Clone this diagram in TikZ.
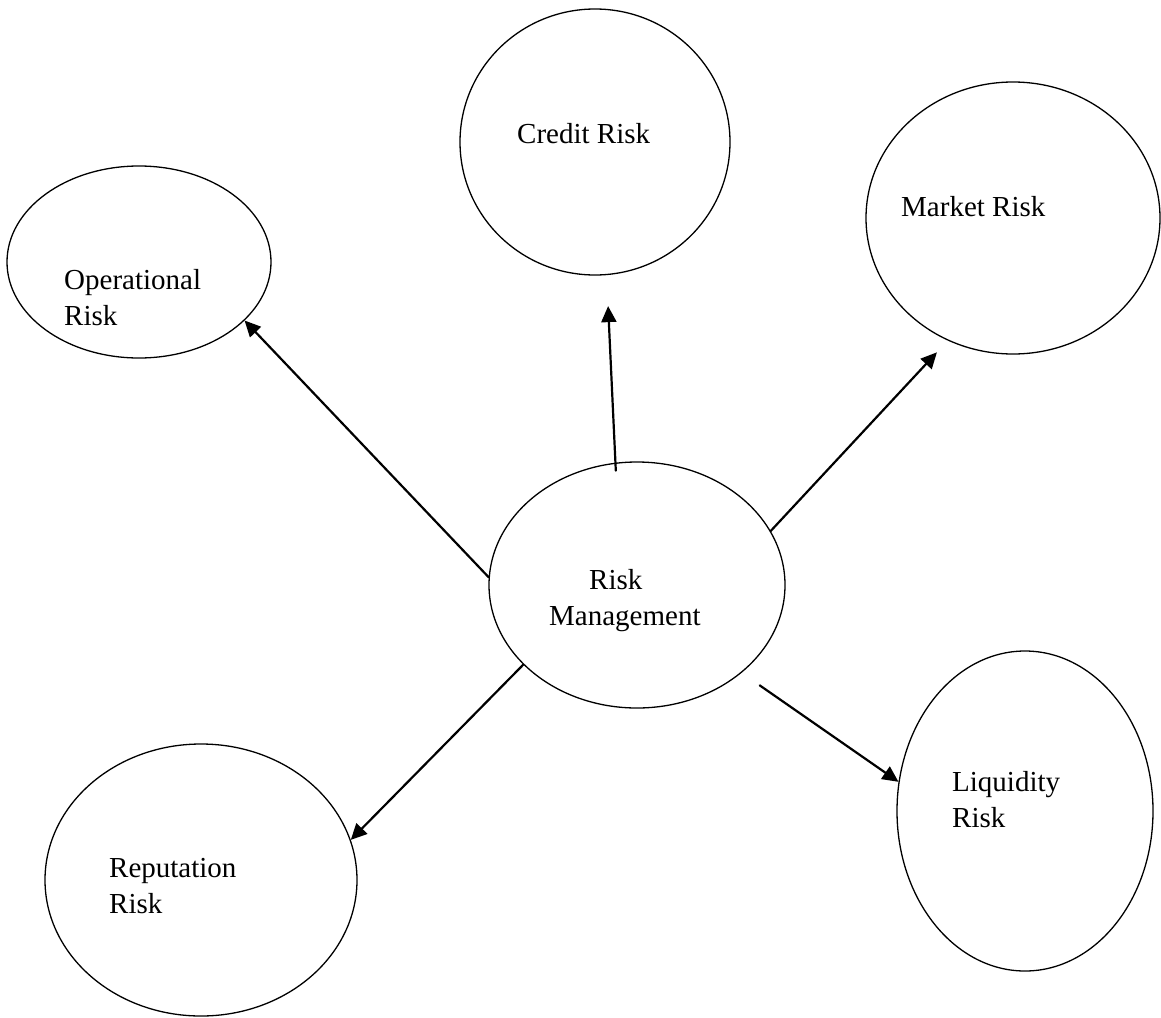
\documentclass[tikz,border=0pt]{standalone}
\usepackage{fontspec}
\setmainfont{Liberation Serif}
\usetikzlibrary{shapes.geometric,arrows.meta}
\begin{document}
\begin{tikzpicture}[x=1pt, y=-1pt, line join=round, line cap=round,
 risk/.style={draw, ellipse, line width=1.3pt, inner sep=0pt},
 lbl/.style={anchor=base west, align=left, inner sep=0pt, font=\fontsize{29}{36}\selectfont},
 link/.style={line width=2.2pt, -{Triangle[length=16pt,width=15pt]}}]
 \useasboundingbox (0,0) rectangle (1161,1017);
 \node[risk, minimum width=296pt, minimum height=246pt] (rm) at (637,585) {};
 \node[risk, minimum width=264pt, minimum height=192pt] (op) at (139,262) {};
 \node[risk, minimum width=270pt, minimum height=266pt] (cr) at (595,142) {};
 \node[risk, minimum width=294pt, minimum height=272pt] (mk) at (1013,218) {};
 \node[risk, minimum width=256pt, minimum height=320pt] (lq) at (1025,811) {};
 \node[risk, minimum width=312pt, minimum height=272pt] (rp) at (201,880) {};
 \node[lbl] (rmt) at (549,625) {\hspace*{40pt}Risk\\Management};
 \node[lbl] (opt) at (64,325) {Operational\\Risk};
 \node[lbl] (crt) at (517,143) {Credit Risk};
 \node[lbl] (mkt) at (901,216) {Market Risk};
 \node[lbl] (lqt) at (952,827) {Liquidity\\Risk};
 \node[lbl] (rpt) at (109,913) {Reputation\\Risk};
 \draw[link] (rm.177) -- (op.-29.3);
 \draw[link, shorten <=-8pt, shorten >=31pt] (rm.100) -- (cr.-85.5);
 \draw[link, shorten >=16pt] (rm.22) -- (mk.242.6);
 \draw[link, shorten <=22pt] (rm.-40.4) -- (lq.167.5);
 \draw[link] (rm.215.9) -- (rp.15);
\end{tikzpicture}
\end{document}
